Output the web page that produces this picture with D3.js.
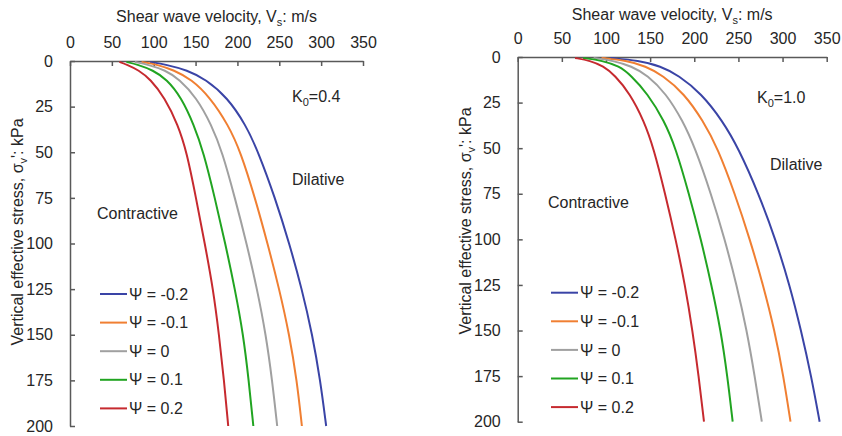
<!DOCTYPE html>
<html>
<head>
<meta charset="utf-8">
<script src="https://cdn.jsdelivr.net/npm/d3@7"></script>
<style>
  body { margin: 0; background: #fff; }
  svg text { font-family: "Liberation Sans", Arial, sans-serif; fill: #262626; }
</style>
</head>
<body>
<div id="chart"></div>
<script>
const stress = [0.5, 2, 5, 10, 20, 35, 50, 75, 100, 125, 150, 175, 200];

const psiLabels = ["Ψ = -0.2", "Ψ = -0.1", "Ψ = 0", "Ψ = 0.1", "Ψ = 0.2"];
const xTicks = [0, 50, 100, 150, 200, 250, 300, 350];
const yTicks = [0, 25, 50, 75, 100, 125, 150, 175, 200];

// K0 = 0.4, Vs in m/s
const k04PsiM02 = [95.5, 115, 140, 162, 188, 210, 225, 245, 262, 277, 289.5, 299, 306];
const k04PsiM01 = [85.5, 104.5, 124, 145, 167.5, 189, 204, 221, 236, 250, 262, 271, 277];
const k04Psi0   = [77.5, 93, 114, 130.5, 151, 169, 182, 197, 211, 223.5, 234, 241.5, 247.5];
const k04Psi01  = [67.5, 81, 99, 115.5, 133, 148, 159.5, 173, 185.5, 197, 207, 213.5, 219];
const k04Psi02  = [59, 68, 82, 96, 113, 129, 139.5, 150.5, 161, 171, 178, 184, 189];

// K0 = 1.0
const k10PsiM02 = [105, 137, 162, 182, 208, 232, 250, 273, 292, 308, 321, 332.5, 342];
const k10PsiM01 = [95, 123, 145, 164, 188.5, 210, 226.5, 246, 263, 278, 291, 301, 309];
const k10Psi0   = [86, 108, 129, 147, 168, 187, 201, 219, 234.5, 248, 259.5, 268.5, 276.5];
const k10Psi01  = [74, 96, 115, 128, 147, 166, 179, 194, 207.5, 219.5, 230, 237.5, 243.5];
const k10Psi02  = [65, 82, 97, 110, 127, 143, 154, 167, 179, 189.5, 198, 205, 211];

const colors = ["#3a44a6", "#f07f32", "#a0a0a0", "#21a421", "#c62a2f"];

const svg = d3.select("#chart")
  .append("svg")
  .attr("width", 842)
  .attr("height", 436);

// one panel per K0
const panels = [
  { k0: "0.4", series: [k04PsiM02, k04PsiM01, k04Psi0, k04Psi01, k04Psi02],
    x: [70, 363], y: [61, 426], titleY: 22, yTitleX: 17, yTitleY: 232,
    kPos: [292, 102], dil: [292, 185], con: [97, 219], legend: [100, 294] },
  { k0: "1.0", series: [k10PsiM02, k10PsiM01, k10Psi0, k10Psi01, k10Psi02],
    x: [517.7, 826.7], y: [57, 421.7], titleY: 20, yTitleX: 465, yTitleY: 221,
    kPos: [757, 103], dil: [770, 170], con: [548, 208], legend: [551, 292.7] }
];

panels.forEach(p => {
  const g = svg.append("g");
  const x = d3.scaleLinear().domain([0, 350]).range(p.x);
  const y = d3.scaleLinear().domain([0, 200]).range(p.y);

  //axes
  const xAxis = g.append("g")
    .attr("transform", "translate(0," + p.y[0] + ")")
    .call(d3.axisTop(x).tickValues(xTicks).tickSizeInner(-5).tickSizeOuter(0).tickPadding(13));
  const yAxis = g.append("g")
    .attr("transform", "translate(" + p.x[0] + ",0)")
    .call(d3.axisLeft(y).tickValues(yTicks).tickSizeInner(-5).tickSizeOuter(0).tickPadding(17));

  [xAxis, yAxis].forEach(a => {
    a.selectAll("path, line").attr("stroke", "#595959").attr("stroke-width", 1.5);
    a.selectAll("text").attr("font-size", 16).attr("fill", "#262626")
      .style("font-family", "'Liberation Sans', Arial, sans-serif");
  });

  //titres des axes
  const xt = g.append("text")
    .attr("x", (p.x[0] + p.x[1]) / 2)
    .attr("y", p.titleY)
    .attr("text-anchor", "middle")
    .attr("font-size", 16);
  xt.append("tspan").text("Shear wave velocity, V");
  xt.append("tspan").attr("font-size", 11).attr("dy", 4).text("s");
  xt.append("tspan").attr("dy", -4).text(": m/s");

  const yt = g.append("text")
    .attr("transform", "translate(" + p.yTitleX + "," + p.yTitleY + ") rotate(-90)")
    .attr("text-anchor", "middle")
    .attr("dy", "0.35em")
    .attr("font-size", 16);
  yt.append("tspan").text("Vertical effective stress, σ");
  yt.append("tspan").attr("font-size", 11).attr("dy", 4).text("v");
  yt.append("tspan").attr("dy", -4).text("': kPa");

  //courbes (lissees)
  const line = d3.line()
    .x(d => x(d[1]))
    .y(d => y(d[0]))
    .curve(d3.curveBasis);

  p.series.forEach((vs, i) => {
    g.append("path")
      .datum(stress.map((s, j) => [s, vs[j]]))
      .attr("d", line)
      .attr("fill", "none")
      .attr("stroke", colors[i])
      .attr("stroke-width", 2);
  });

  //annotations
  const kt = g.append("text")
    .attr("x", p.kPos[0]).attr("y", p.kPos[1])
    .attr("font-size", 16);
  kt.append("tspan").text("K");
  kt.append("tspan").attr("font-size", 11).attr("dy", 4).text("0");
  kt.append("tspan").attr("dy", -4).text("=" + p.k0);

  g.append("text").attr("x", p.dil[0]).attr("y", p.dil[1]).attr("font-size", 16).text("Dilative");
  g.append("text").attr("x", p.con[0]).attr("y", p.con[1]).attr("font-size", 16).text("Contractive");

  //legende
  psiLabels.forEach((lab, i) => {
    const ly = p.legend[1] + i * 28.6;
    g.append("line")
      .attr("x1", p.legend[0]).attr("x2", p.legend[0] + 27)
      .attr("y1", ly).attr("y2", ly)
      .attr("stroke", colors[i])
      .attr("stroke-width", 2);
    g.append("text")
      .attr("x", p.legend[0] + 29)
      .attr("y", ly)
      .attr("dy", "0.35em")
      .attr("font-size", 16)
      .text(lab);
  });
});
</script>
</body>
</html>
